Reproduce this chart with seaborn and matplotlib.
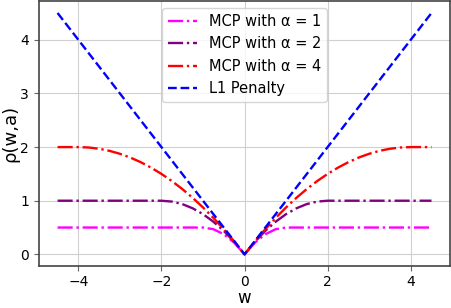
import matplotlib
matplotlib.use("Agg")
import matplotlib.pyplot as plt
import seaborn as sns

# --- DATA ---
w = [-4.5, -4.25, -4.0, -3.75, -3.5, -3.25, -3.0, -2.75, -2.5, -2.25, -2.0,
     -1.75, -1.5, -1.25, -1.0, -0.75, -0.5, -0.25, 0.0,
     0.25, 0.5, 0.75, 1.0, 1.25, 1.5, 1.75, 2.0, 2.25, 2.5, 2.75, 3.0,
     3.25, 3.5, 3.75, 4.0, 4.25, 4.5]

mcp_a1 = [0.5, 0.5, 0.5, 0.5, 0.5, 0.5, 0.5, 0.5, 0.5, 0.5, 0.5,
          0.5, 0.5, 0.5, 0.5, 0.469, 0.375, 0.219, 0.0,
          0.219, 0.375, 0.469, 0.5, 0.5, 0.5, 0.5, 0.5, 0.5, 0.5, 0.5, 0.5,
          0.5, 0.5, 0.5, 0.5, 0.5, 0.5]

mcp_a2 = [1.0, 1.0, 1.0, 1.0, 1.0, 1.0, 1.0, 1.0, 1.0, 1.0, 1.0,
          0.984, 0.938, 0.859, 0.75, 0.609, 0.438, 0.234, 0.0,
          0.234, 0.438, 0.609, 0.75, 0.859, 0.938, 0.984, 1.0, 1.0, 1.0, 1.0, 1.0,
          1.0, 1.0, 1.0, 1.0, 1.0, 1.0]

mcp_a4 = [2.0, 2.0, 2.0, 1.992, 1.969, 1.930, 1.875, 1.805, 1.719, 1.617, 1.5,
          1.367, 1.219, 1.055, 0.875, 0.680, 0.469, 0.242, 0.0,
          0.242, 0.469, 0.680, 0.875, 1.055, 1.219, 1.367, 1.5, 1.617, 1.719, 1.805, 1.875,
          1.930, 1.969, 1.992, 2.0, 2.0, 2.0]

l1 = [4.5, 4.25, 4.0, 3.75, 3.5, 3.25, 3.0, 2.75, 2.5, 2.25, 2.0,
      1.75, 1.5, 1.25, 1.0, 0.75, 0.5, 0.25, 0.0,
      0.25, 0.5, 0.75, 1.0, 1.25, 1.5, 1.75, 2.0, 2.25, 2.5, 2.75, 3.0,
      3.25, 3.5, 3.75, 4.0, 4.25, 4.5]

labels = ["MCP with α = 1", "MCP with α = 2", "MCP with α = 4", "L1 Penalty"]
colors = ["magenta", "purple", "red", "blue"]
styles = ["-.", "-.", "-.", "--"]

# --- PLOT ---
fig, ax = plt.subplots(figsize=(4.52, 3.08), dpi=100)
fig.subplots_adjust(left=0.086, right=0.996, top=0.997, bottom=0.135)

for ys, lab, c, ls in zip([mcp_a1, mcp_a2, mcp_a4, l1], labels, colors, styles):
    sns.lineplot(x=w, y=ys, ax=ax, color=c, linestyle=ls, linewidth=1.7, label=lab)

ax.grid(True, color="#d0d0d0")
ax.set_axisbelow(True)
for sp in ax.spines.values():
    sp.set_color("#444444")
    sp.set_linewidth(1.2)
ax.tick_params(color="#666666")
ax.tick_params(axis="x", pad=2.5)
ax.set_xticks([-4, -2, 0, 2, 4])
ax.set_xlabel("w", fontsize=12, labelpad=0)
ax.set_ylabel("ρ(w,a)", fontsize=13, labelpad=1)
ax.legend(loc="upper center", fontsize=10.5)

plt.savefig("out.png", dpi=100)
